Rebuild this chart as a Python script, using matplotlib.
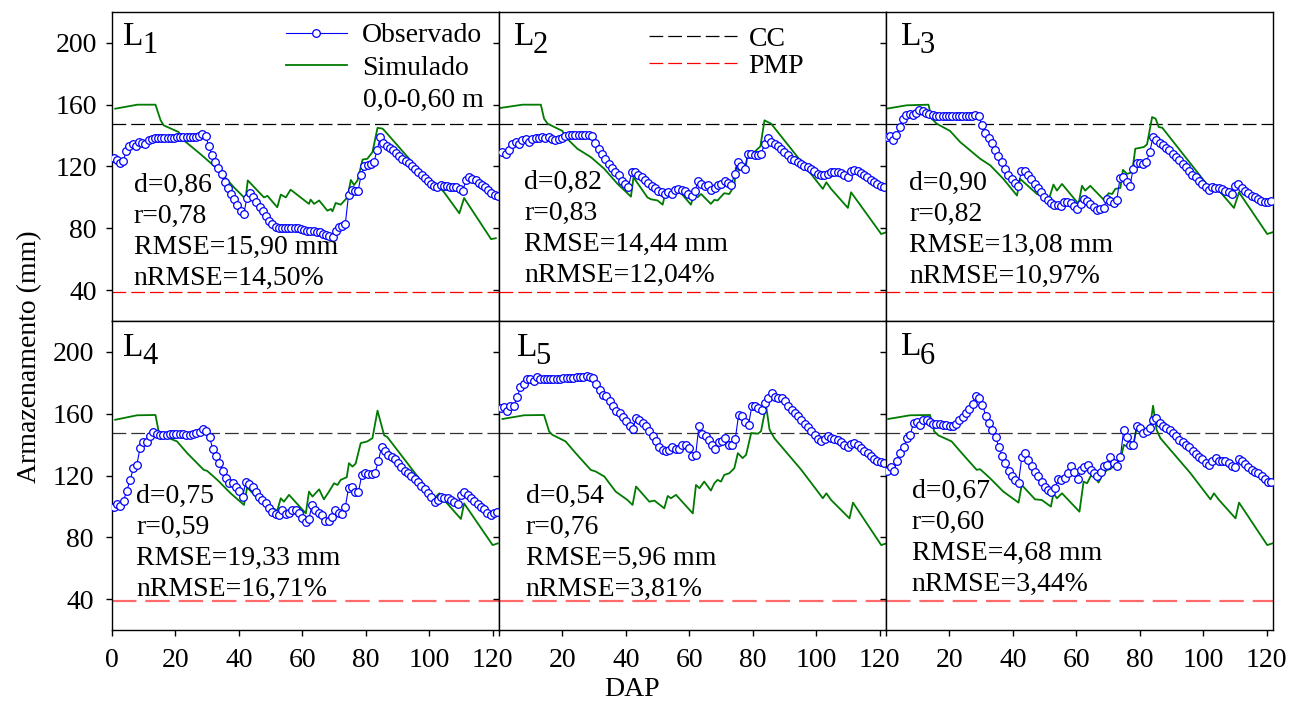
import numpy as np
import matplotlib
matplotlib.use("Agg")
import matplotlib.pyplot as plt

plt.rcParams['font.family'] = ['Liberation Serif', 'DejaVu Serif']

# capacidade de campo / ponto de murcha permanente (mm)
cc = 147.5
pmp = 38.5

# ---- observado (em ordem dos marcadores)
obs_L1 = [125.5, 124.5, 122.5, 123.5, 130, 133, 134.5, 133.5, 136, 135.5, 134.5, 137, 138, 138.3, 138.3, 138.3,
          138.3, 138.5, 138.5, 138.5, 138.8, 139, 139, 139, 139.2, 139.2, 139.3, 139.5, 141, 140, 133, 127.5, 123,
          119, 115, 110, 106, 102.5, 99, 95, 91.5, 89.3, 99.6, 102.7, 100, 97, 94, 91, 88, 85, 82.5, 80.8, 80.2, 80,
          80, 80.5, 80.5, 80.5, 80.3, 79.5, 79, 78.5, 78.2, 78, 77.7, 77.3, 76.5, 75.5, 74.8, 74.5, 78.5, 81, 81.5,
          83, 101.5, 104.8, 104, 104, 114.8, 120.5, 121, 121.5, 122.8, 130.5, 139, 135, 133, 132, 130.5, 128.7,
          126.5, 125, 123.5, 122, 120, 118.5, 116.5, 114.5, 112.5, 110.5, 108.5, 107.5, 106.5, 108.3, 107.5, 107.3,
          107, 107, 106.5, 105.5, 104.4, 111, 113, 112, 111, 109.5, 108, 106.5, 105, 103, 101.5, 100.7]
obs_L2 = [129.3, 128.2, 130.4, 134.7, 135.8, 134.7, 136.9, 137.5, 135.8, 138.0, 138.6, 138.6, 139.0, 138.6, 139.0,
          137.9, 137.3, 137.5, 138.4, 140.0, 140.5, 140.5, 140.5, 140.5, 140.5, 140.5, 140.5, 140.0, 135.2, 131.5,
          128.2, 124.9, 121.7, 119.2, 116.3, 114.2, 110.9, 108.7, 107.0, 116.3, 116.3, 114.8, 113.0, 111.3, 109.4,
          107.7, 106.2, 104.4, 103.3, 102.2, 103.3, 102.2, 104.8, 105.5, 104.8, 104.4, 102.2, 101.1, 104.0, 110.9,
          108.7, 107.7, 108.1, 105.0, 105.9, 108.1, 108.7, 110.9, 109.1, 108.3, 115.2, 122.8, 120.6, 118.5, 127.8,
          127.8, 127.2, 127.2, 128.2, 134.7, 138.6, 135.8, 134.3, 133.0, 131.5, 129.3, 127.2, 125.0, 123.9, 122.8,
          121.7, 120.6, 119.6, 118.5, 117.0, 115.2, 114.2, 114.2, 115.2, 116.3, 116.3, 116.3, 115.7, 114.8, 113.5,
          117.0, 117.8, 117.0, 115.7, 114.6, 113.0, 111.3, 109.8, 108.7, 107.7, 107.0]
obs_L3 = [139.0, 139.7, 137.3, 140.6, 145.5, 151.0, 153.1, 153.8, 153.1, 154.6, 156.4, 155.7, 154.6, 153.8, 153.1,
          152.9, 152.7, 152.7, 152.7, 152.7, 152.9, 152.9, 152.9, 152.9, 152.9, 152.9, 152.7, 153.1, 152.5, 146.6,
          141.9, 138.6, 135.2, 130.8, 126.5, 122.8, 118.5, 114.8, 112.0, 109.2, 107.2, 117.0, 117.0, 114.2, 111.6,
          108.7, 105.9, 103.3, 100.5, 98.4, 96.2, 95.3, 95.3, 94.7, 96.8, 96.8, 96.2, 94.7, 92.5, 95.8, 99.0, 97.9,
          95.8, 93.6, 91.9, 92.5, 93.2, 99.0, 97.5, 96.4, 98.6, 112.6, 113.1, 109.8, 107.7, 118.5, 122.2, 122.2,
          121.7, 122.8, 129.3, 139.0, 136.9, 135.2, 133.6, 132.1, 130.4, 128.2, 126.1, 123.9, 121.7, 119.6, 117.4,
          114.8, 113.0, 110.9, 108.7, 106.6, 104.8, 107.0, 106.1, 105.9, 105.5, 104.4, 103.3, 102.2, 107.7, 108.7,
          106.1, 104.4, 102.7, 101.2, 100.1, 99.0, 97.9, 97.3, 97.3, 97.9]
obs_L4 = [99.9, 101.6, 100.3, 103.8, 110.3, 117.2, 124.8, 126.9, 137.7, 141.4, 141.4, 145.3, 147.9, 147.1, 146.4,
          146.4, 146.4, 146.8, 146.8, 147.1, 147.1, 146.8, 146.4, 146.4, 146.8, 147.5, 148.1, 150.1, 148.6, 144.7,
          137.1, 132.8, 128.0, 123.2, 118.3, 115.0, 115.0, 112.4, 110.3, 106.4, 116.1, 114.6, 112.4, 109.6, 106.4,
          104.2, 102.0, 98.8, 96.2, 95.1, 94.5, 97.7, 95.1, 95.5, 97.7, 97.7, 95.5, 92.3, 90.1, 91.9, 101.0, 97.7,
          96.0, 94.5, 90.8, 90.8, 93.4, 97.7, 95.5, 95.1, 99.4, 111.8, 112.4, 109.2, 109.2, 120.4, 121.5, 120.9,
          121.1, 121.9, 129.1, 138.8, 135.6, 133.4, 132.3, 130.6, 128.0, 125.4, 123.2, 121.5, 119.4, 117.6, 115.7,
          113.3, 111.1, 108.5, 105.9, 103.1, 104.2, 106.4, 105.3, 105.3, 104.2, 103.1, 101.6, 107.4, 109.6, 107.4,
          105.3, 103.8, 101.6, 99.8, 98.1, 96.0, 94.5, 95.7, 96.6]
obs_L5 = [163.7, 164.4, 162.0, 164.8, 165.2, 170.6, 177.4, 179.3, 182.8, 182.6, 181.0, 183.6, 182.8, 182.6, 182.8,
          182.8, 182.8, 182.8, 182.8, 183.0, 183.2, 183.2, 183.4, 183.6, 183.6, 183.9, 184.1, 183.6, 183.2, 179.5,
          175.2, 172.4, 171.3, 168.1, 164.8, 162.0, 160.5, 157.7, 155.1, 151.8, 150.3, 157.2, 156.1, 154.0, 151.8,
          148.6, 145.3, 142.1, 138.8, 136.7, 136.2, 136.7, 138.2, 137.3, 137.3, 139.5, 139.9, 137.7, 132.8, 133.0,
          152.3, 147.1, 145.3, 143.2, 139.9, 137.1, 141.4, 142.1, 144.2, 139.9, 139.9, 143.6, 159.4, 158.7, 154.4,
          152.9, 164.8, 165.2, 163.7, 162.6, 167.0, 170.2, 173.5, 170.9, 170.2, 170.2, 168.1, 165.2, 162.6, 160.5,
          158.7, 156.1, 153.5, 151.4, 148.6, 146.4, 143.6, 142.1, 143.6, 145.3, 144.2, 143.6, 142.7, 141.4, 139.9,
          138.4, 140.6, 141.0, 139.9, 137.7, 136.2, 134.5, 132.8, 130.6, 129.5, 128.7, 128.0]
obs_L6 = [123.2, 125.4, 123.2, 129.1, 134.5, 138.4, 144.2, 146.4, 154.0, 154.4, 152.9, 155.7, 156.1, 154.4, 153.5,
          153.5, 153.3, 152.9, 152.9, 152.3, 152.3, 153.5, 155.7, 157.8, 160.5, 163.3, 166.5, 171.3, 170.2, 165.9,
          158.7, 154.0, 149.7, 144.9, 138.4, 132.8, 128.4, 123.2, 119.4, 117.2, 115.5, 132.3, 134.5, 130.2, 126.5,
          122.6, 119.4, 115.7, 112.9, 110.7, 109.2, 111.8, 117.6, 117.2, 118.3, 121.5, 126.3, 122.6, 117.6, 123.7,
          125.8, 126.9, 123.7, 121.9, 119.4, 122.6, 126.3, 126.9, 132.3, 128.0, 126.3, 131.9, 149.2, 144.9, 139.9,
          139.9, 152.3, 150.7, 147.5, 148.6, 150.7, 156.1, 157.2, 154.0, 151.8, 150.7, 149.7, 147.5, 145.8, 143.2,
          141.4, 139.9, 138.4, 136.2, 134.1, 132.3, 130.6, 128.4, 126.9, 129.1, 131.3, 129.7, 129.7, 129.1, 128.0,
          126.3, 125.4, 130.6, 129.1, 127.3, 125.4, 123.7, 122.6, 121.5, 119.8, 117.6, 116.1, 116.1]
# primeiro e ultimo DAP observado de cada lisimetro
obs_dap_range = [(0.5, 121.6), (1.05, 121.4), (0.2, 121.5), (0.5, 121.5), (0.5, 121.4), (0.4, 121.5)]

# ---- simulado
sim_x_L1 = [1, 8, 13.7, 15.3, 16.3, 21, 22.6, 27.9, 33.2, 38.4, 42.1, 42.8, 47.9, 49, 52.1, 53.2, 54.8, 56.3, 62.1,
            62.6, 63.7, 65.3, 67.9, 69, 69.5, 70.5, 72.1, 74.2, 75.3, 76.3, 77.4, 79, 80.5, 82.1, 83.7, 85.3, 86.3,
            102, 103.2, 104.7, 109.5, 111, 119.5, 121]
sim_y_L1 = [157.4, 160, 160, 150, 146.6, 142.3, 137, 128, 118.5, 106.6, 99, 111, 100, 101, 93.6, 101.8, 100, 105,
            95.8, 98.6, 95.8, 98, 91.4, 92.5, 91, 96.4, 95.3, 100, 111.3, 108, 111, 124.5, 125, 129.3, 145, 144.5,
            142.3, 105.5, 106.6, 103.3, 89.7, 99.6, 73, 73.6]
sim_x_L2 = [0.5, 7.4, 13.2, 14.2, 15.3, 20, 21, 24.7, 29, 33.2, 37.4, 41.6, 42.4, 46.8, 47.9, 50, 51.6, 52.6, 53.7,
            55.8, 60.5, 61.6, 62.6, 63.7, 66.8, 67.9, 68.9, 71, 72.6, 74.2, 74.7, 75.8, 77.9, 78.4, 80.5, 81.6, 82.4,
            83.7, 84.7, 85.8, 102.1, 103.2, 104.7, 110, 111, 120.5, 122]
sim_y_L2 = [157.9, 160, 160, 151, 147.7, 143, 139, 131.5, 126, 118.5, 108.7, 100.5, 113, 100, 98.8, 98, 95.3, 104.4,
            103.3, 106.6, 95.3, 102.7, 100.1, 102.2, 95.8, 98.4, 98, 102.7, 102.2, 107.7, 119.6, 117.4, 120.6, 129.3,
            129.3, 131.5, 133, 149.9, 148.8, 147.7, 105.5, 109.8, 105.5, 93.2, 103.3, 76.3, 77.4]
sim_x_L3 = [0.2, 6.5, 13.4, 14.4, 16, 20.2, 23.4, 29.7, 32.9, 37, 41.3, 42.3, 47.6, 49.7, 51.3, 52.8, 53.9, 55.5,
            60.7, 61.8, 62.8, 64.4, 68.6, 70.2, 71.3, 72.3, 73.9, 74.7, 76, 77.6, 78.6, 81.3, 82.3, 83.9, 85, 86,
            87.1, 102.3, 103.4, 105, 109.7, 111.3, 120.2, 121.8]
sim_y_L3 = [157.4, 159.6, 160, 151, 147.7, 143, 135.8, 125, 120.7, 112, 101.2, 112, 102.2, 101.2, 98.4, 108.3,
            104.4, 108.7, 95.8, 107.5, 104.4, 107.5, 98.6, 102.7, 102.2, 105.5, 106.1, 117.8, 115.2, 116.3, 131.5,
            132.6, 134.3, 152, 151, 145.5, 145.1, 105.5, 108.7, 104.4, 93.2, 103.3, 76.3, 77.4]
sim_x_L4 = [1, 7.9, 13.7, 14.7, 15.8, 20.5, 23.7, 28.9, 30, 33.2, 37.4, 41.6, 42.6, 46.8, 48.9, 52.1, 53.2, 54.2,
            55.8, 61.1, 62.1, 63.2, 65.3, 66.8, 68.4, 70, 71.1, 72.1, 74, 74.7, 75.8, 76.8, 78.4, 80.5, 82.1, 83.7,
            85.8, 86.8, 101.6, 103.2, 104.7, 110, 111, 120, 121.6]
sim_y_L4 = [156.1, 159, 159.2, 148.6, 146, 142.1, 134.5, 123.7, 123, 117.2, 108.5, 101, 112.4, 103.1, 101, 97.3,
            105.3, 103.1, 107.5, 95.5, 109.6, 106.4, 111.1, 104.6, 109.6, 115, 113.9, 117.2, 118.9, 128, 125.8,
            127.7, 141, 142.1, 144.2, 162, 146, 144.9, 105.3, 108.5, 104.2, 91.9, 102, 75, 76.1]
sim_x_L5 = [1.1, 7.9, 14.2, 15.8, 16.8, 21, 23.7, 28.9, 30.5, 33.2, 36.8, 40.5, 42.1, 43.2, 47.4, 49, 52.1, 53.2,
            54.2, 55.8, 61.1, 62.1, 63.2, 64.7, 66.8, 67.9, 68.9, 70, 71, 72.6, 74.2, 75.3, 76.8, 77.9, 79.5, 81.6,
            82.6, 84.2, 85.3, 86.8, 95.3, 102.1, 103.2, 104.7, 110.5, 111.6, 120.5, 122.1]
sim_y_L5 = [156.6, 159, 159.2, 148.6, 146.4, 142.1, 135.6, 123.7, 122.6, 119.4, 109.6, 104.2, 101, 112.9, 103.1,
            103.8, 98.8, 106.8, 105.3, 107.5, 95.5, 113.9, 111.8, 116.1, 110.3, 115, 117.2, 116.1, 120.4, 121.5,
            124.8, 134.5, 131.3, 133.4, 147.5, 147.1, 148.6, 165.2, 149.7, 144.2, 123.7, 105.3, 108.5, 104.2, 92.3,
            102.5, 75, 76.1]
sim_x_L6 = [0.7, 7.6, 13.9, 15.2, 16.5, 20.7, 23.9, 28.6, 29.7, 32.8, 37, 41.8, 42.8, 47, 49.1, 52, 52.8, 53.9, 55.5,
            61, 62.3, 63.4, 65, 67, 68.1, 69.7, 70.7, 72.8, 73.9, 75, 76, 77.9, 79.2, 80.7, 82.3, 83.2, 84.2, 85.3,
            86.5, 96, 102.3, 103.4, 105, 110.2, 111.3, 120.2, 121.8]
sim_y_L6 = [156.6, 159, 159.2, 148.6, 146, 142.1, 134.5, 123.7, 124.1, 118.3, 109.6, 102.5, 113.9, 104.6, 104.2,
            99.9, 108.5, 105.3, 108.5, 96.6, 116.1, 115, 121.5, 115.5, 119.8, 123.7, 124.1, 128, 130.2, 139.9, 138.8,
            138.8, 152.9, 150.7, 149.7, 150.7, 165.2, 149.7, 144.2, 121.5, 104.6, 108.5, 104.2, 92.3, 102.5, 75, 76.1]

stats = [["d=0,86", "r=0,78", "RMSE=15,90 mm", "nRMSE=14,50%"],
         ["d=0,82", "r=0,83", "RMSE=14,44 mm", "nRMSE=12,04%"],
         ["d=0,90", "r=0,82", "RMSE=13,08 mm", "nRMSE=10,97%"],
         ["d=0,75", "r=0,59", "RMSE=19,33 mm", "nRMSE=16,71%"],
         ["d=0,54", "r=0,76", "RMSE=5,96 mm", "nRMSE=3,81%"],
         ["d=0,67", "r=0,60", "RMSE=4,68 mm", "nRMSE=3,44%"]]

obs_all = [obs_L1, obs_L2, obs_L3, obs_L4, obs_L5, obs_L6]
sim_all = [(sim_x_L1, sim_y_L1), (sim_x_L2, sim_y_L2), (sim_x_L3, sim_y_L3),
           (sim_x_L4, sim_y_L4), (sim_x_L5, sim_y_L5), (sim_x_L6, sim_y_L6)]

# posicoes dos textos (unidades de dados)
stat_x = [6.8, 7.9, 7.3, 7.6, 8.4, 8.1]
stat_y = [107.7, 109.6, 109.0, 106.4, 106.4, 109.6]
lab_xy = [(3.6, 198.6), (4.7, 198.6), (4.6, 198.6), (3.6, 197.3), (5.6, 197.3), (4.6, 197.7)]

fig = plt.figure(figsize=(12.98, 7.04), dpi=100)
axes = fig.subplots(2, 3)
fig.subplots_adjust(left=0.0863, right=0.9807, top=0.983, bottom=0.105, wspace=0, hspace=0)

fs = 20
for i, ax in enumerate(axes.flat):
    row, col = divmod(i, 3)
    obs = obs_all[i]
    x0, x1 = obs_dap_range[i]
    ox = np.linspace(x0, x1, len(obs))
    sx, sy = sim_all[i]

    cc_col = 'black' if row == 0 else '#333333'
    pmp_col = 'red' if row == 0 else '#ff6a6a'
    pmp_lw = 0.9 if row == 0 else 1.6
    ax.axhline(cc, color=cc_col, lw=0.9, dashes=(11, 4), label='CC', zorder=1)
    ax.axhline(pmp, color=pmp_col, lw=pmp_lw, dashes=(11, 4), label='PMP', zorder=1)
    ax.plot(sx, sy, color='#007a00', lw=1.3, label='Simulado', zorder=2)
    ax.plot(ox, obs, color='#0000ff', lw=0.8, marker='o', ms=5.5, mfc='white', mec='#0000ff', mew=0.9,
            label='Observado', zorder=3)

    ax.set_xlim(0, 122)
    ax.set_ylim(20, 220)
    ax.set_yticks([40, 80, 120, 160, 200])
    ax.set_xticks([0, 20, 40, 60, 80, 100, 120])
    ax.tick_params(direction='out', length=4, width=1, labelsize=fs, pad=7)
    if col == 0:
        ax.tick_params(labelleft=True)
    else:
        ax.tick_params(labelleft=False)
    if row == 0:
        ax.tick_params(bottom=False, labelbottom=False)
    else:
        ax.tick_params(pad=9)
        labels = ['0', '20', '40', '60', '80', '100', '120']
        if col > 0:
            labels[0] = ''
        ax.set_xticklabels(labels)
    for sp in ax.spines.values():
        sp.set_linewidth(1)

    # rotulo do lisimetro
    lx, ly = lab_xy[i]
    ax.text(lx, ly, 'L', fontsize=24, ha='left', va='baseline')
    ax.annotate(str(i + 1), (lx, ly), xytext=(13.5, -6), textcoords='offset points',
                fontsize=22, ha='left', va='baseline')

    for k, s in enumerate(stats[i]):
        ax.text(stat_x[i], stat_y[i] - 20 * k, s, fontsize=fs, ha='left', va='center')

ax1 = axes[0, 0]
h, l = ax1.get_legend_handles_labels()
ax1.legend([h[3], h[2]], [l[3], l[2]], loc='upper left', bbox_to_anchor=(0.442, 0.974),
           frameon=False, fontsize=fs, handlelength=2.2, handletextpad=0.55,
           labelspacing=0.27, borderpad=0, borderaxespad=0.1)
ax1.text(0.648, 0.714, '0,0-0,60 m', transform=ax1.transAxes, fontsize=fs, ha='left', va='center')

ax2 = axes[0, 1]
h, l = ax2.get_legend_handles_labels()
ax2.legend([h[0], h[1]], [l[0], l[1]], loc='upper left', bbox_to_anchor=(0.372, 0.972),
           frameon=False, fontsize=fs, handlelength=3.2, handletextpad=0.4,
           labelspacing=0.07, borderpad=0, borderaxespad=0.2)

fig.text(0.023, 0.493, 'Armazenamento (mm)', rotation=90, fontsize=fs, ha='center', va='center')
fig.text(0.487, 0.02, 'DAP', fontsize=fs, ha='center', va='center')

fig.savefig('out.png', dpi=100)
